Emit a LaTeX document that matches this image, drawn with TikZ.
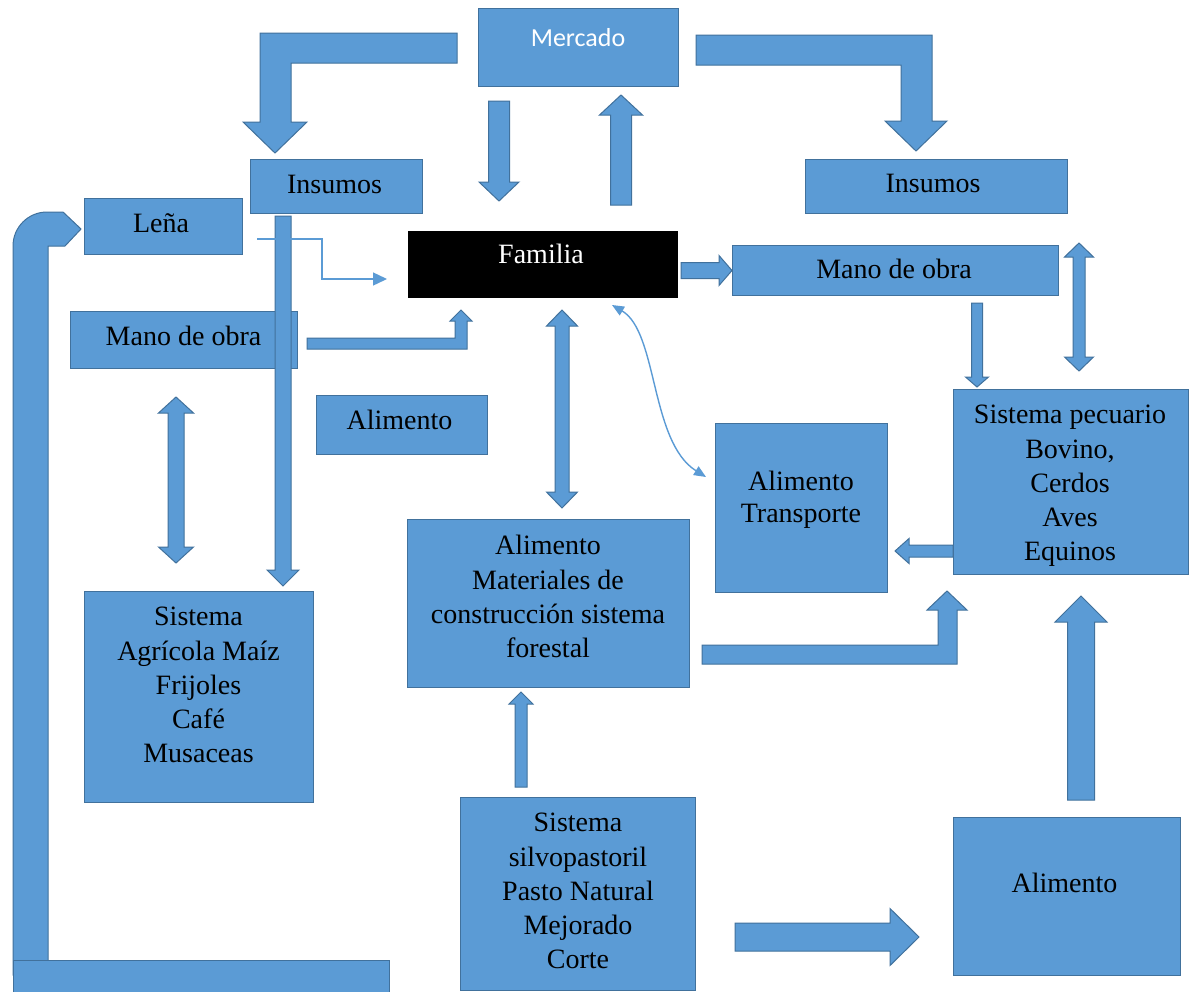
\documentclass[tikz,border=0pt]{standalone}
\usepackage{fontspec}
\setmainfont{Liberation Serif}
\newfontfamily\calibrifont{Carlito}
\usetikzlibrary{calc,arrows.meta,fit}
\definecolor{boxblue}{HTML}{5B9BD5}
\definecolor{boxedge}{HTML}{41719C}

\tikzset{
  box/.style={draw=boxedge, fill=boxblue, line width=0.5pt, inner sep=0pt},
  darkbox/.style={draw=black, fill=black, line width=0.5pt, inner sep=0pt},
  lbl/.style={inner sep=0pt, align=center, font=\fontsize{14}{17.1}\selectfont},
  blockarrow/.style={draw=boxedge, fill=boxblue, line width=0.5pt, line join=miter},
  flowline/.style={draw=boxblue, line width=0.7pt},
}

% straight block arrow: tail, tip, shaft width, head width, head length (units)
\newcommand\blockarrow[5]{%
  \coordinate (bah) at ($(#2)!{#5*0.5pt}!(#1)$);
  \draw[blockarrow]
    ($(#1)!{#3*0.25pt}!90:(#2)$) --
    ($(bah)!{#3*0.25pt}!-90:(#1)$) --
    ($(bah)!{#4*0.25pt}!-90:(#1)$) --
    (#2) --
    ($(bah)!{#4*0.25pt}!90:(#1)$) --
    ($(bah)!{#3*0.25pt}!90:(#1)$) --
    ($(#1)!{#3*0.25pt}!-90:(#2)$) -- cycle;
}
% double-headed block arrow: end A, end B, shaft width, head width, head length
\newcommand\dblockarrow[5]{%
  \coordinate (bha) at ($(#1)!{#5*0.5pt}!(#2)$);
  \coordinate (bhb) at ($(#2)!{#5*0.5pt}!(#1)$);
  \draw[blockarrow] (#1) --
    ($(bha)!{#4*0.25pt}!90:(#2)$) -- ($(bha)!{#3*0.25pt}!90:(#2)$) --
    ($(bhb)!{#3*0.25pt}!-90:(#1)$) -- ($(bhb)!{#4*0.25pt}!-90:(#1)$) -- (#2) --
    ($(bhb)!{#4*0.25pt}!90:(#1)$) -- ($(bhb)!{#3*0.25pt}!90:(#1)$) --
    ($(bha)!{#3*0.25pt}!-90:(#2)$) -- ($(bha)!{#4*0.25pt}!-90:(#2)$) -- cycle;
}

\begin{document}
\begin{tikzpicture}[x=0.5pt, y=-0.5pt]
\fill[white] (0,0) rectangle (1193,991);
\useasboundingbox (0,0) rectangle (1193,991);

% ---- boxes ----
\node[box, fit={(478,8) (678,86)}] (mercado) {};
\node[box, fit={(250,159) (422,213)}] (insumosL) {};
\node[box, fit={(805,159) (1067,213)}] (insumosR) {};
\node[box, fit={(84,198) (242,254)}] (lena) {};
\node[darkbox, fit={(408,231) (677,297)}] (familia) {};
\node[box, fit={(732,245) (1058,295)}] (manoR) {};
\node[box, fit={(70,311) (297,368)}] (manoL) {};
\node[box, fit={(316,395) (487,454)}] (alimM) {};
\node[box, fit={(715,423) (887,592)}] (transp) {};
\node[box, fit={(953,389) (1188,574)}] (pecuario) {};
\node[box, fit={(407,519) (689,687)}] (forestal) {};
\node[box, fit={(84,591) (313,802)}] (agricola) {};
\node[box, fit={(460,797) (695,990)}] (silvo) {};
\node[box, fit={(953,817) (1180,975)}] (alimBR) {};

% ---- bent block arrows ----
% Mercado -> Insumos (left)
\draw[blockarrow] (457,33) -- (260,33) -- (260,122) -- (243,122) -- (275,153)
  -- (307,122) -- (291,122) -- (291,63) -- (457,63) -- cycle;
% Mercado -> Insumos (right)
\draw[blockarrow] (696,35) -- (932,35) -- (932,121) -- (947,121) -- (916,151)
  -- (885,121) -- (901,121) -- (901,65) -- (696,65) -- cycle;
% Mano de obra -> Familia
\draw[blockarrow] (307,338) -- (455,338) -- (455,321) -- (450,321) -- (461,310)
  -- (472,321) -- (467,321) -- (467,349) -- (307,349) -- cycle;
% sistema forestal -> Sistema pecuario
\draw[blockarrow] (702,645) -- (938,645) -- (938,610) -- (927,610) -- (947,591)
  -- (967,610) -- (957,610) -- (957,664) -- (702,664) -- cycle;
% return path to Lena
\draw[blockarrow] (48,975) -- (48,246) -- (65,246) -- (81,229) -- (63,212) -- (47,212)
  arc[start angle=90, end angle=180, radius=17pt] -- (13,975) -- cycle;
\draw[blockarrow] (13,960) rectangle (389,1000);

% ---- straight block arrows ----
\coordinate (mf-s) at (499,101);   \coordinate (mf-e) at (499,201);
\blockarrow{mf-s}{mf-e}{21}{40}{19}
\coordinate (fm-s) at (621,205);   \coordinate (fm-e) at (621,95);
\blockarrow{fm-s}{fm-e}{21}{43}{20}
\coordinate (ia-s) at (283,216);   \coordinate (ia-e) at (283,586);
\blockarrow{ia-s}{ia-e}{16}{32}{16}
\coordinate (fmo-s) at (681,270.5); \coordinate (fmo-e) at (732,270.5);
\blockarrow{fmo-s}{fmo-e}{16}{30}{13}
\coordinate (mp-s) at (977,303);   \coordinate (mp-e) at (977,387);
\blockarrow{mp-s}{mp-e}{11}{23}{10}
\coordinate (pt-s) at (953,551);   \coordinate (pt-e) at (895,551);
\blockarrow{pt-s}{pt-e}{12}{25}{14}
\coordinate (sf-s) at (521,787);   \coordinate (sf-e) at (521,692);
\blockarrow{sf-s}{sf-e}{12}{24}{12}
\coordinate (ap-s) at (1081,800);  \coordinate (ap-e) at (1081,596);
\blockarrow{ap-s}{ap-e}{27}{52}{26}
\coordinate (sa-s) at (735,937);   \coordinate (sa-e) at (919,937);
\blockarrow{sa-s}{sa-e}{28}{57}{29}

\coordinate (ma-a) at (176,397);   \coordinate (ma-b) at (176,563);
\dblockarrow{ma-a}{ma-b}{16}{35}{16}
\coordinate (ff-a) at (562,310);   \coordinate (ff-b) at (562,508);
\dblockarrow{ff-a}{ff-b}{14}{31}{16}
\coordinate (ip-a) at (1079,243);  \coordinate (ip-b) at (1079,371);
\dblockarrow{ip-a}{ip-b}{12}{29}{14}

% ---- thin connectors ----
\coordinate (lena-out) at (257,239);
\coordinate (fam-in) at (387,279);
\draw[flowline, -{Triangle[length=7pt,width=6.5pt]}] (lena-out) -- ++(65,0) |- (fam-in);
\coordinate (fam-c) at (612,305);
\coordinate (transp-c) at (706,477);
\draw[flowline, {Triangle[length=6pt,width=5pt]}-{Triangle[length=6pt,width=5pt]}]
  (fam-c) .. controls (658,332) and (650,442) .. (transp-c);

% ---- texts ----
\node[inner sep=0pt, anchor=base, text=white, font=\calibrifont\fontsize{13}{15}\selectfont]
  (mercado-t) at (578,46) {Mercado};
\node[lbl, anchor=base, text=white] (familia-t) at (541,263) {Familia};
\node[lbl, anchor=base] (insumosL-t) at (334.5,193) {Insumos};
\node[lbl, anchor=base] (insumosR-t) at (933,192) {Insumos};
\node[lbl, anchor=base] (lena-t) at (161,232) {Leña};
\node[lbl, anchor=base] (manoL-t) at (183.5,345) {Mano de obra};
\node[lbl, anchor=base] (manoR-t) at (894,278) {Mano de obra};
\node[lbl, anchor=base] (alimM-t) at (399.5,429) {Alimento};
\node[lbl, anchor=base] (alimBR-t) at (1064.5,892) {Alimento};
\node[lbl, anchor=north] (agricola-t) at (198.5,607)
  {Sistema\\Agrícola Maíz\\Frijoles\\Café\\Musaceas};
\node[lbl, anchor=north] (forestal-t) at (548,535)
  {Alimento\\Materiales de\\construcción sistema\\forestal};
\node[lbl, anchor=north] (silvo-t) at (578,813)
  {Sistema\\silvopastoril\\Pasto Natural\\Mejorado\\Corte};
\node[lbl, anchor=north] (pecuario-t) at (1070,405)
  {Sistema pecuario\\Bovino,\\Cerdos\\Aves\\Equinos};
\node[lbl, anchor=north, font=\fontsize{14}{15.6}\selectfont] (transp-t) at (801,471)
  {Alimento\\Transporte};
\end{tikzpicture}
\end{document}
